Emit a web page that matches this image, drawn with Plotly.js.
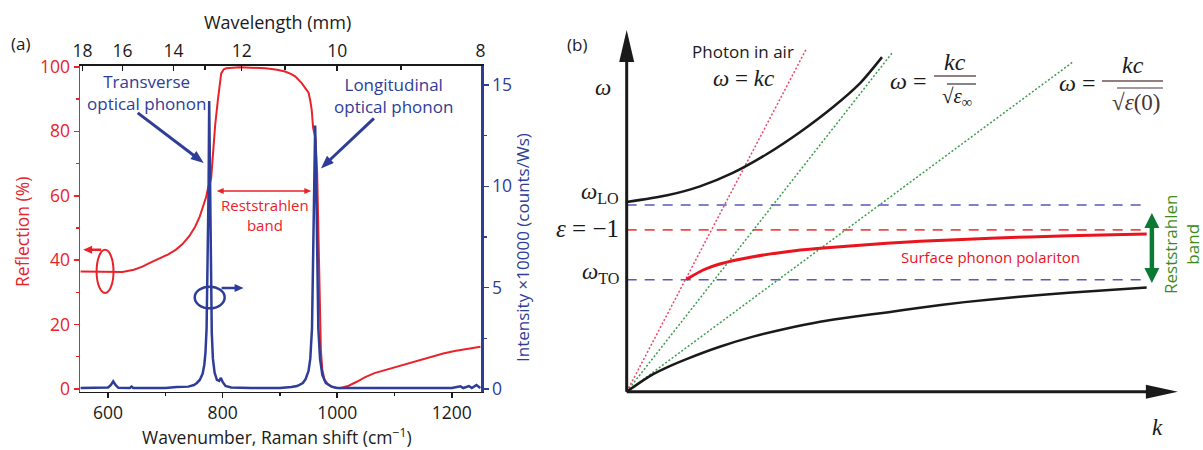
<!DOCTYPE html>
<html><head><meta charset="utf-8">
<script src="https://cdn.plot.ly/plotly-3.0.1.min.js"></script>
<style>html,body{margin:0;padding:0;background:#fff}#chart{width:1203px;height:450px}</style>
</head><body><div id="chart"></div>
<script>
// ---------- Panel (a): reflection spectrum (red, left axis, %) ----------
const reflWavenumber = [552,575,600,625,645,660,672,690,705,718,730,742,752,760,766,771,775,778,780,783,787,791.7,795,797.5,802,806,830,860,875,895,909,920,927,938,944,950,953,955.5,958,962,965,967,968.5,970,971.5,974,978,985,995,1005,1020,1035,1048,1065,1085,1105,1125,1145,1163,1185,1205,1225,1250];
const reflection     = [36.5,36.5,36.4,36.3,37.0,38.0,39.1,40.6,41.8,43.2,45.0,47.5,50.4,53.5,56.6,59.5,62.8,64,65.5,74,82,89.8,95,98,99.3,99.6,99.9,99.8,99.6,99.1,98.6,97.8,97,95,93.5,92,89.5,86.6,81,78,67,52,35,22,12,6,2.8,1.2,0.4,0.2,1.0,2.3,3.6,4.9,5.9,6.9,8.0,9.1,10,11,11.8,12.4,13.1];

// ---------- Panel (a): Raman spectrum (blue, right axis, x10000 counts/Ws) ----------
const ramanWavenumber = [552,560,580,600,605,609,613,618,638,641,644,660,700,720,740,750,755,760,765,768,770,772,774,775.5,776.5,777.5,779,781,783,786,790,794,797,800,805,815,850,900,920,930,940,945,950,953,956,958,960,961.5,963,965,967,970,974,980,990,1000,1030,1100,1200,1215,1220,1230,1235,1243,1250];
const ramanIntensity  = [0.05,0.05,0.05,0.08,0.2,0.38,0.2,0.06,0.05,0.12,0.05,0.05,0.05,0.1,0.12,0.2,0.3,0.45,0.75,1.2,1.8,3.0,6,10,14.2,12,6,2.8,1.5,0.8,0.45,0.4,0.55,0.35,0.15,0.08,0.05,0.05,0.1,0.15,0.3,0.5,0.9,1.5,3,6,10,13.0,11,6,3,1.5,0.7,0.3,0.12,0.05,0.05,0.05,0.05,0.14,0.05,0.15,0.05,0.2,0.05];

// axis ticks
const wavenumberTicks = [600,800,1000,1200];
const wavelengthTicks = [18,16,14,12,10,8];          // labelled wavelength ticks (micrometres, labelled "mm")
const wavelengthMinor = [13,11,9];                   // unlabelled wavelength ticks
const reflTicks = [0,20,40,60,80,100];
const ramanTicks = [0,5,10,15];

// ---------- Panel (b): dispersion schematic (k, omega / omega_LO) ----------
const kUpper = [0,0.078,0.141,0.204,0.269,0.333,0.397,0.449,0.491];
const wUpper = [1.016,1.052,1.100,1.172,1.272,1.390,1.525,1.653,1.792];
const kLower = [0,0.026,0.051,0.085,0.115,0.179,0.243,0.308,0.372,0.436,0.500,0.564,0.650,0.750,0.850,1.000];
const wLower = [0,0.050,0.094,0.140,0.175,0.241,0.295,0.339,0.375,0.402,0.425,0.450,0.480,0.508,0.530,0.558];
const kSPP = [0.115,0.147,0.179,0.243,0.308,0.372,0.436,0.500,0.564,0.700,0.850,1.000];
const wSPP = [0.602,0.652,0.684,0.723,0.750,0.768,0.782,0.795,0.806,0.822,0.836,0.845];
const kPhoton = [0,0.346], wPhoton = [0,1.839];
const kEpsInf = [0,0.510], wEpsInf = [0,1.813];
const kEps0 = [0,0.859], wEps0 = [0,1.768];
const kLevels = [0,1];
const omegaLO = 1.0, epsMinus1 = 0.867, omegaTO = 0.600;

// ---------- styling ----------
const RED = '#e8232a', BLUE = '#2e3d97', BLK = '#1a1a1a', GREEN = '#0b7a33';
const SANS = 'Open Sans, Noto Sans, sans-serif';
const SERIF = 'Liberation Serif, DejaVu Serif, serif';
const W = 1203, H = 450;
const PX = x => x / W, PY = y => 1 - y / H;
const wl2wn = l => 10000 / l;

const traces = [
  {x: reflWavenumber, y: reflection, xaxis: 'x', yaxis: 'y', mode: 'lines',
   line: {color: RED, width: 2}, hoverinfo: 'skip'},
  {x: ramanWavenumber, y: ramanIntensity, xaxis: 'x', yaxis: 'y2', mode: 'lines',
   line: {color: BLUE, width: 2.5}, hoverinfo: 'skip'},
  {x: [700], y: [50], xaxis: 'x2', yaxis: 'y', mode: 'markers', marker: {opacity: 0}, hoverinfo: 'skip'},
  {x: [700], y: [50], xaxis: 'x4', yaxis: 'y', mode: 'markers', marker: {opacity: 0}, hoverinfo: 'skip'},
  // panel (b)
  {x: kLevels, y: [omegaLO, omegaLO], xaxis: 'x3', yaxis: 'y3', mode: 'lines', line: {color: '#5a5ab8', width: 1.6, dash: '10px,8px'}},
  {x: kLevels, y: [epsMinus1, epsMinus1], xaxis: 'x3', yaxis: 'y3', mode: 'lines', line: {color: '#ee4a4a', width: 1.6, dash: '10px,8px'}},
  {x: kLevels, y: [omegaTO, omegaTO], xaxis: 'x3', yaxis: 'y3', mode: 'lines', line: {color: '#5a5ab8', width: 1.6, dash: '10px,8px'}},
  {x: kPhoton, y: wPhoton, xaxis: 'x3', yaxis: 'y3', mode: 'lines', line: {color: '#ee4466', width: 1.5, dash: '2px,2px'}},
  {x: kEpsInf, y: wEpsInf, xaxis: 'x3', yaxis: 'y3', mode: 'lines', line: {color: '#3a9e4a', width: 1.5, dash: '2px,2px'}},
  {x: kEps0, y: wEps0, xaxis: 'x3', yaxis: 'y3', mode: 'lines', line: {color: '#3a9e4a', width: 1.5, dash: '2px,2px'}},
  {x: kUpper, y: wUpper, xaxis: 'x3', yaxis: 'y3', mode: 'lines', line: {color: BLK, width: 2.5, shape: 'spline', smoothing: 0.8}},
  {x: kLower, y: wLower, xaxis: 'x3', yaxis: 'y3', mode: 'lines', line: {color: BLK, width: 2.5, shape: 'spline', smoothing: 0.6}},
  {x: kSPP, y: wSPP, xaxis: 'x3', yaxis: 'y3', mode: 'lines', line: {color: '#e8141e', width: 3, shape: 'spline', smoothing: 0.6}}
];

const xr = [551, 1251];
const yOmega = [-0.312, 2.098];
const pxPerWn = (481 - 80) / (xr[1] - xr[0]);      // pixels per cm^-1 on panel (a)
const pxPerOmega = H / (yOmega[1] - yOmega[0]);    // pixels per omega unit on panel (b)

const shapes = [
  // panel (a) ellipses
  {type: 'circle', xref: 'x', yref: 'y', x0: 580, x1: 609.5, y0: 29.8, y1: 43.2, line: {color: RED, width: 2}},
  {type: 'circle', xref: 'x', yref: 'y2', x0: 751.3, x1: 803.5, y0: 3.98, y1: 5.05, line: {color: BLUE, width: 2.5}},
  // panel (b) axes
  {type: 'line', xref: 'x3', yref: 'y3', x0: 0, y0: 0, x1: 0, y1: 1.85, line: {color: BLK, width: 3}},
  {type: 'line', xref: 'x3', yref: 'y3', x0: 0, y0: 0, x1: 1.02, y1: 0, line: {color: BLK, width: 3}},
  // fraction bars and root overlines
  {type: 'line', xref: 'paper', yref: 'paper', x0: PX(934), x1: PX(976), y0: PY(76), y1: PY(76), line: {color: '#6d5353', width: 1.5}},
  {type: 'line', xref: 'paper', yref: 'paper', x0: PX(947), x1: PX(976), y0: PY(84), y1: PY(84), line: {color: '#333', width: 1.2}},
  {type: 'line', xref: 'paper', yref: 'paper', x0: PX(1102), x1: PX(1163), y0: PY(81), y1: PY(81), line: {color: '#6d5353', width: 1.5}},
  {type: 'line', xref: 'paper', yref: 'paper', x0: PX(1117), x1: PX(1163), y0: PY(88), y1: PY(88), line: {color: '#4a3535', width: 1.2}}
];

// arrow head: tip anchored at data point (x,y); (ux,uy) = direction of travel in screen pixels (y up)
function head(xref, yref, x, y, ux, uy, L, Wd, color) {
  const n = Math.hypot(ux, uy); ux /= n; uy /= n;
  const bx = -ux * L, by = -uy * L, qx = -uy * Wd / 2, qy = ux * Wd / 2;
  shapes.push({type: 'path', xref: xref, yref: yref, xsizemode: 'pixel', ysizemode: 'pixel', xanchor: x, yanchor: y,
    path: `M 0 0 L ${bx + qx} ${by + qy} L ${bx - qx} ${by - qy} Z`, fillcolor: color, line: {width: 0}});
}
// arrow with tip at (x,y) and tail at pixel offset (tx,ty) (y up); optional head at tail too
function arrow(xref, yref, x, y, tx, ty, width, color, L, Wd, both) {
  const n = Math.hypot(tx, ty), ux = -tx / n, uy = -ty / n;
  const s = both ? L * 0.6 : 0;
  shapes.push({type: 'line', xref: xref, yref: yref, xsizemode: 'pixel', ysizemode: 'pixel', xanchor: x, yanchor: y,
    x0: tx + ux * s, y0: ty + uy * s, x1: -ux * L * 0.6, y1: -uy * L * 0.6, line: {color: color, width: width}});
  head(xref, yref, x, y, ux, uy, L, Wd, color);
  if (both) {
    shapes.push({type: 'path', xref: xref, yref: yref, xsizemode: 'pixel', ysizemode: 'pixel', xanchor: x, yanchor: y,
      path: `M ${tx} ${ty} L ${tx + ux * L - uy * Wd / 2} ${ty + uy * L + ux * Wd / 2} L ${tx + ux * L + uy * Wd / 2} ${ty + uy * L - ux * Wd / 2} Z`,
      fillcolor: color, line: {width: 0}});
  }
}
// panel (b) axis heads
head('x3', 'y3', 0, 1.937, 0, 1, 32, 15, BLK);
head('x3', 'y3', 1.060, 0, 1, 0, 32, 14, BLK);
// panel (a) arrows
arrow('x', 'y', 767, 70.2, -66, 50, 3, BLUE, 13, 10, false);
arrow('x', 'y', 971.6, 68.5, 53, 50, 3, BLUE, 13, 10, false);
arrow('x', 'y', 954.8, 61.5, -(954.8 - 789.6) * pxPerWn, 0, 1.5, RED, 7, 6, true);
arrow('x', 'y', 556.5, 43.2, (588 - 556.5) * pxPerWn, 0, 2.5, RED, 9, 8, false);
arrow('x', 'y2', 836.5, 4.98, -(836.5 - 798.3) * pxPerWn, 0, 2.5, BLUE, 9, 8, false);
// panel (b) green double arrow (Reststrahlen band between omega_TO and omega_LO)
arrow('x3', 'y3', 1.010, 0.957, 0, -(0.957 - 0.582) * pxPerOmega, 4.5, GREEN, 15, 15, true);

const layout = {
  width: W, height: H, margin: {l: 0, r: 0, t: 0, b: 0},
  paper_bgcolor: '#fff', plot_bgcolor: 'rgba(0,0,0,0)', showlegend: false,
  font: {family: SANS, color: BLK},
  xaxis: {domain: [PX(80), PX(481)], range: xr, anchor: 'y', side: 'bottom',
    showline: true, linecolor: BLK, linewidth: 1.8, showgrid: false, zeroline: false,
    tickvals: wavenumberTicks, ticks: 'outside', ticklen: 5, tickwidth: 1.5, tickcolor: BLK,
    minor: {dtick: 100, tick0: 0, ticks: 'outside', ticklen: 3, tickcolor: BLK, showgrid: false},
    tickfont: {size: 17.5, color: BLK, family: SANS}},
  xaxis2: {overlaying: 'x', anchor: 'y', side: 'top', range: xr,
    showline: true, linecolor: BLK, linewidth: 1.8, showgrid: false, zeroline: false,
    tickvals: wavelengthTicks.map(wl2wn), ticktext: wavelengthTicks.map(String),
    ticks: 'inside', ticklen: 5, tickwidth: 1.5, tickcolor: BLK,
    tickfont: {size: 17.5, color: BLK, family: SANS}},
  xaxis4: {overlaying: 'x', anchor: 'y', side: 'top', range: xr,
    showline: false, showgrid: false, zeroline: false, showticklabels: false,
    tickvals: wavelengthMinor.map(wl2wn), ticks: 'inside', ticklen: 4, tickwidth: 1.5, tickcolor: BLK},
  yaxis: {domain: [PY(391.5), PY(66)], range: [-0.8, 100.3], anchor: 'x',
    showline: true, linecolor: RED, linewidth: 1.5, showgrid: false, zeroline: false,
    tickvals: reflTicks, ticks: 'outside', ticklen: 5, tickwidth: 1.5, tickcolor: RED,
    minor: {dtick: 10, tick0: 0, ticks: 'outside', ticklen: 3, tickcolor: RED, showgrid: false},
    tickfont: {size: 17.5, color: RED, family: SANS}},
  yaxis2: {overlaying: 'y', side: 'right', anchor: 'x', range: [-0.12, 15.93],
    showline: true, linecolor: BLUE, linewidth: 2.5, showgrid: false, zeroline: false,
    tickvals: ramanTicks, ticks: 'outside', ticklen: 5, tickwidth: 1.5, tickcolor: BLUE,
    minor: {dtick: 2.5, tick0: 0, ticks: 'outside', ticklen: 3, tickcolor: BLUE, showgrid: false},
    tickfont: {size: 17.5, color: BLUE, family: SANS}},
  xaxis3: {domain: [PX(600), 1], range: [-0.0513, 1.1083], anchor: 'y3', visible: false},
  yaxis3: {domain: [0, 1], range: yOmega, anchor: 'x3', visible: false},
  shapes: shapes,
  annotations: []
};

const A = layout.annotations;
function txt(x, y, text, size, color, opts) {
  A.push(Object.assign({xref: 'paper', yref: 'paper', x: PX(x), y: PY(y), text: text, showarrow: false,
    xanchor: 'center', yanchor: 'middle', font: {size: size, color: color, family: SANS}}, opts || {}));
}
function serif(x, y, text, size, color, opts) {
  txt(x, y, text, size, color, Object.assign({font: {size: size, color: color, family: SERIF}}, opts || {}));
}
// panel (a) text
txt(20, 43, '(a)', 17, BLK);
txt(277, 22, 'Wavelength (mm)', 18, BLK);
txt(277, 436, 'Wavenumber, Raman shift (cm<sup>−1</sup>)', 17.5, BLK);
txt(22, 232, 'Reflection (%)', 17.5, RED, {textangle: -90});
txt(522, 248, 'Intensity ×10000 (counts/Ws)', 17, BLUE, {textangle: -90});
txt(146, 92, 'Transverse<br>optical phonon', 17, BLUE);
txt(393, 95, 'Longitudinal<br>optical phonon', 17, BLUE);
txt(265, 215, 'Reststrahlen<br>band', 15, RED);

// panel (b) text
txt(577, 45, '(b)', 17, BLK);
serif(603, 87, '<i>ω</i>', 23, BLK);
serif(621, 193, '<i>ω</i><sub>LO</sub>', 23, BLK, {xanchor: 'right'});
serif(621, 229, '<i>ε</i> = −1', 25, BLK, {xanchor: 'right'});
serif(621, 273, '<i>ω</i><sub>TO</sub>', 23, BLK, {xanchor: 'right'});
serif(1157, 427, '<i>k</i>', 23, BLK);
txt(743, 52, 'Photon in air', 17, BLK);
serif(743, 78, '<i>ω</i> = <i>kc</i>', 23, BLK);
serif(908, 81, '<i>ω</i> =', 24, BLK);
serif(955, 62, '<i>kc</i>', 24, BLK);
serif(957, 97, '√<i>ε</i><sub>∞</sub>', 21, BLK);
serif(1077, 83, '<i>ω</i> =', 24, BLK);
serif(1133, 65, '<i>kc</i>', 24, BLK);
serif(1136, 102, '√<i>ε</i>(0)', 23, '#4a3535');
txt(990, 257, 'Surface phonon polariton', 15, '#e8141e');
txt(1182, 245, 'Reststrahlen<br>band', 17, '#3c8c1c', {textangle: -90});

Plotly.newPlot('chart', traces, layout, {staticPlot: true, displayModeBar: false});
</script>
</body></html>
